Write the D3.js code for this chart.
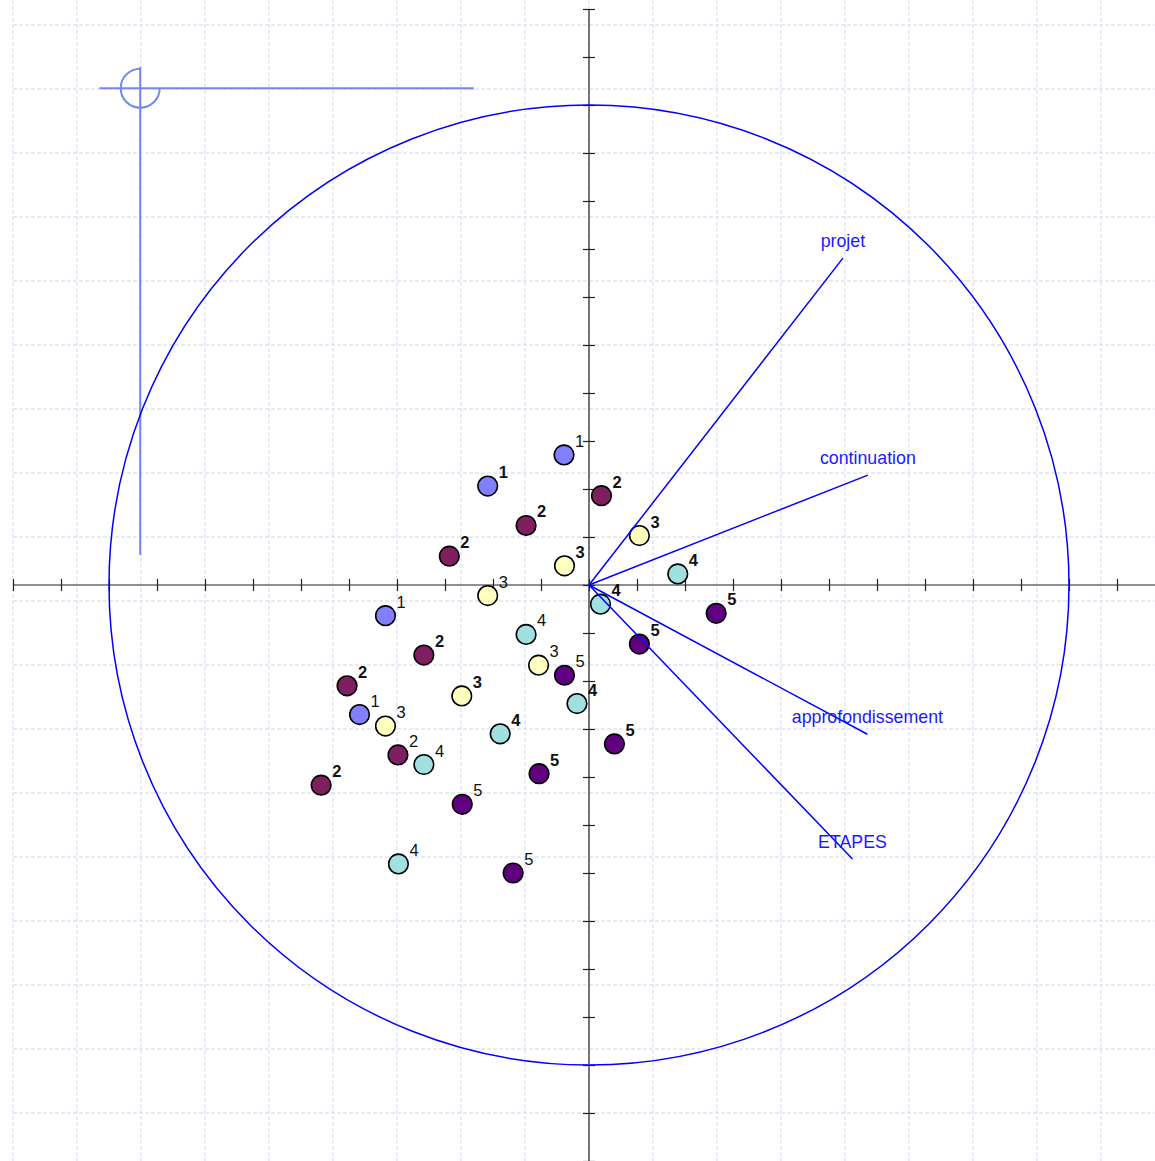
<!DOCTYPE html>
<html><head><meta charset="utf-8">
<script src="https://cdn.jsdelivr.net/npm/d3@7"></script>
<style>html,body{margin:0;padding:0;background:#fff}svg{display:block}</style>
</head><body>
<script>
// ---- data ----
const categories = ["1", "2", "3", "4", "5"];
const categoryColors = ["#8080ff", "#7f1f5f", "#ffffc0", "#a0e0e0", "#600080"];

const pointCategory = [
  "1","1","1","1",
  "2","2","2","2","2","2","2",
  "3","3","3","3","3","3",
  "4","4","4","4","4","4","4",
  "5","5","5","5","5","5","5"
];
const pointX = [
  -0.052, -0.211, -0.424, -0.478,
   0.026, -0.131, -0.291, -0.344, -0.504, -0.398, -0.558,
   0.105, -0.051, -0.211, -0.105, -0.265, -0.424,
   0.185,  0.024, -0.131, -0.025, -0.185, -0.344, -0.397,
   0.265,  0.105, -0.051,  0.053, -0.104, -0.264, -0.158
];
const pointY = [
   0.271,  0.206, -0.064, -0.270,
   0.186,  0.124,  0.060, -0.146, -0.210, -0.354, -0.417,
   0.103,  0.040, -0.022, -0.167, -0.231, -0.294,
   0.023, -0.040, -0.103, -0.247, -0.310, -0.374, -0.581,
  -0.059, -0.123, -0.188, -0.331, -0.393, -0.457, -0.600
];
const pointBold = [
  false, true, false, false,
  true, true, true, true, true, false, true,
  true, true, false, false, true, false,
  true, true, false, true, true, false, false,
  true, true, false, true, true, false, false
];

const variables = ["projet", "continuation", "approfondissement", "ETAPES"];
const variableX = [0.529, 0.581, 0.580, 0.549];
const variableY = [0.681, 0.229, -0.311, -0.571];

const xTicks = d3.range(-12, 12).map(k => k / 10);
const yTicks = d3.range(-12, 13).map(k => k / 10);

// ---- layout ----
const W = 1155, H = 1161;
const x = d3.scaleLinear().domain([-1, 1]).range([109, 1069]);
const y = d3.scaleLinear().domain([-1, 1]).range([1065, 105]);
const color = d3.scaleOrdinal().domain(categories).range(categoryColors);

const svg = d3.select("body").append("svg").attr("width", W).attr("height", H);

// grid (decorative, step 2/15 units)
const gStep = 2 / 15;
const gridX = d3.range(-9, 9).map(k => k * gStep);
const gridY = d3.range(-8, 10).map(k => -1 / 30 + k * gStep);
const grid = svg.append("g").attr("stroke", "#dfe5f8").attr("stroke-width", 1.4)
  .attr("stroke-dasharray", "4,2").attr("fill", "none");
grid.selectAll("line.v").data(gridX).join("line").attr("class", "v")
  .attr("x1", d => x(d)).attr("x2", d => x(d)).attr("y1", 0).attr("y2", H);
grid.selectAll("line.h").data(gridY).join("line").attr("class", "h")
  .attr("x1", x(-1.2)).attr("x2", W).attr("y1", d => y(d)).attr("y2", d => y(d));

// crosshair decoration
const ch = svg.append("g").attr("stroke", "#7088f0").attr("stroke-width", 2).attr("fill", "none");
const chx = x(-0.935), chy = y(1.035), chr = 19.5;
ch.append("line").attr("x1", x(-1.02)).attr("x2", x(-0.24)).attr("y1", chy).attr("y2", chy);
ch.append("line").attr("x1", chx).attr("x2", chx).attr("y1", y(1.079)).attr("y2", y(0.0625));
ch.append("path").attr("transform", `translate(${chx},${chy})`)
  .attr("d", d3.arc()({innerRadius: chr, outerRadius: chr, startAngle: Math.PI / 2, endAngle: 2 * Math.PI}));

// axes
const axCol = "#222";
svg.append("line").attr("x1", x(-1.2)).attr("x2", W).attr("y1", y(0)).attr("y2", y(0))
  .attr("stroke", axCol).attr("stroke-width", 1.2);
svg.append("line").attr("x1", x(0)).attr("x2", x(0)).attr("y1", y(1.2)).attr("y2", H)
  .attr("stroke", axCol).attr("stroke-width", 1.2);
const xa = svg.append("g").attr("transform", `translate(0,${y(0) - 6})`)
  .call(d3.axisBottom(x).tickValues(xTicks).tickSize(12).tickFormat(""));
xa.select(".domain").remove();
xa.selectAll("line").attr("stroke", axCol).attr("stroke-width", 1.2);
const ya = svg.append("g").attr("transform", `translate(${x(0) + 6},0)`)
  .call(d3.axisLeft(y).tickValues(yTicks).tickSize(12).tickFormat(""));
ya.select(".domain").remove();
ya.selectAll("line").attr("stroke", axCol).attr("stroke-width", 1.2);

// correlation circle
svg.append("circle").attr("cx", x(0)).attr("cy", y(0)).attr("r", x(1) - x(0))
  .attr("fill", "none").attr("stroke", "#0000ff").attr("stroke-width", 1.5);

// points
const pts = pointX.map((v, i) => ({x: v, y: pointY[i], c: pointCategory[i], b: pointBold[i]}));
svg.append("g").selectAll("circle").data(pts).join("circle")
  .attr("cx", d => x(d.x)).attr("cy", d => y(d.y)).attr("r", 9.8)
  .attr("fill", d => color(d.c)).attr("stroke", "#000").attr("stroke-width", 1.6);
svg.append("g").selectAll("text").data(pts).join("text")
  .attr("x", d => x(d.x) + 11).attr("y", d => y(d.y) - 8)
  .attr("font-family", "'Liberation Sans', Arial, sans-serif").attr("font-size", 16.5)
  .attr("font-weight", d => d.b ? "bold" : "normal").attr("fill", "#111")
  .text(d => d.c);

// variable vectors
const vars = variables.map((n, i) => ({n, x: variableX[i], y: variableY[i]}));
svg.append("g").selectAll("line").data(vars).join("line")
  .attr("x1", x(0)).attr("y1", y(0)).attr("x2", d => x(d.x)).attr("y2", d => y(d.y))
  .attr("stroke", "#0000ff").attr("stroke-width", 1.5);
svg.append("g").selectAll("text").data(vars).join("text")
  .attr("x", d => x(d.x)).attr("y", d => y(d.y) - 11).attr("text-anchor", "middle")
  .attr("font-family", "'Liberation Sans', Arial, sans-serif").attr("font-size", 17.8)
  .attr("fill", "#1a1aff").text(d => d.n);
</script>
</body></html>
